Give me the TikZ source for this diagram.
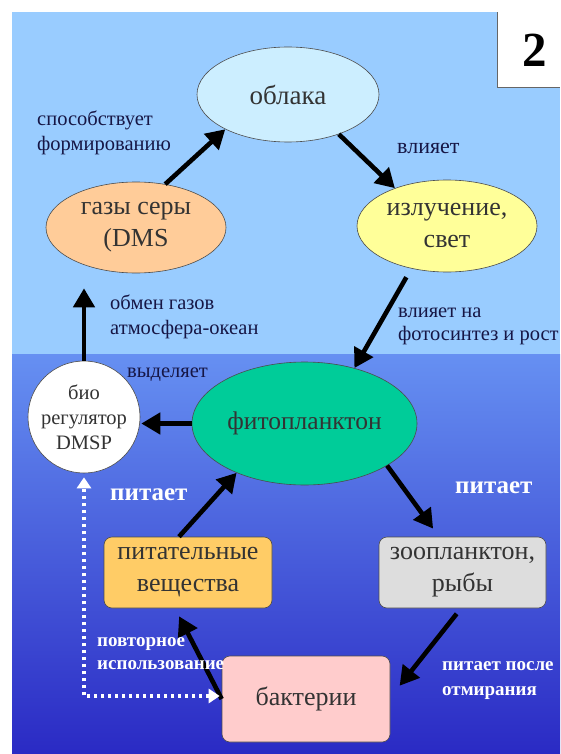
\documentclass[tikz,border=0pt]{standalone}
\usepackage{fontspec}
\setmainfont{Liberation Serif}
\usetikzlibrary{shapes.geometric,arrows.meta}
\definecolor{sky}{HTML}{99CCFF}
\definecolor{seatop}{HTML}{6690F2}
\definecolor{seabot}{HTML}{2A2AC4}
\definecolor{cloudc}{HTML}{CCEEFF}
\definecolor{gasc}{HTML}{FFCC99}
\definecolor{lightc}{HTML}{FFFF99}
\definecolor{phytoc}{HTML}{00CC99}
\definecolor{nutrc}{HTML}{FFCC66}
\definecolor{zooc}{HTML}{DDDDDD}
\definecolor{bactc}{HTML}{FFCCCC}
\definecolor{navy}{HTML}{161645}
\begin{document}
\begin{tikzpicture}[x=1pt,y=-1pt,
  ell/.style={ellipse,draw=black!70,line width=0.6pt,inner sep=0pt,align=center,font=\fontsize{26}{32}\selectfont,text=black!80},
  rbox/.style={rectangle,rounded corners=8pt,draw=black!70,line width=0.6pt,inner sep=0pt,align=center,font=\fontsize{26}{32}\selectfont,text=black!80},
  arr/.style={line width=4.6pt,-{Triangle[length=19pt,width=21pt]}},
  dotarr/.style={white,line width=3.2pt,dash pattern=on 3.2pt off 3.8pt,{Triangle[length=11pt,width=14pt]}-{Triangle[length=11pt,width=14pt]}},
  lbl/.style={font=\fontsize{20.5}{25}\selectfont,text=navy,align=left,anchor=west,inner sep=0pt},
  wlbl/.style={font=\bfseries\fontsize{19}{23}\selectfont,text=white,align=left,anchor=west,inner sep=0pt}]
\useasboundingbox (0,0) rectangle (560,754);
\fill[white] (0,0) rectangle (560,754);
\fill[sky] (12,12) rectangle (560,354);
\shade[top color=seatop,bottom color=seabot] (12,354) rectangle (560,754);
% box 2
\fill[black!60] (496.5,12) rectangle (560,88.5);
\node[fill=white,minimum width=63pt,minimum height=75pt,inner sep=0pt,anchor=north west] (num) at (498,12) {};
\node[font=\bfseries\fontsize{49}{49}\selectfont] (numt) at (535,50) {2};
% nodes
\node[ell,fill=cloudc,minimum width=182pt,minimum height=95pt,font=\fontsize{27}{32}\selectfont] (cloud) at (288,94.5) {облака};
\node[ell,fill=gasc,minimum width=180pt,minimum height=91pt] (gas) at (136,227.5) {газы серы\\(DMS};
\node[ell,fill=lightc,minimum width=180pt,minimum height=92pt] (light) at (447,226) {излучение,\\свет};
\node[circle,draw=black!70,fill=white,line width=0.6pt,minimum size=112pt,inner sep=0pt,align=center,font=\fontsize{20.5}{25}\selectfont,text=black!80] (bio) at (84,417) {био\\регулятор\\DMSP};
\node[ell,fill=phytoc,minimum width=225pt,minimum height=123pt,font=\fontsize{25.5}{30}\selectfont] (phyto) at (304.5,423.5) {фитопланктон};
\node[rbox,fill=nutrc,minimum width=168pt,minimum height=71pt] (nutr) at (188,572.5) {питательные\\вещества};
\node[rbox,fill=zooc,minimum width=167pt,minimum height=71pt] (zoo) at (462.5,572.5) {зоопланктон,\\рыбы};
\node[rbox,fill=bactc,minimum width=168pt,minimum height=86pt] (bact) at (306,699) {бактерии};
% arrows
\draw[arr] (gas.56) -- (cloud.209);
\draw[arr] (cloud.-38) -- (light.144);
\draw[arr,shorten <=10pt] (light.230) -- (phyto.48);
\draw[arr,shorten >=1pt] (phyto.west) -- (phyto.west -| bio.east);
\draw[arr,shorten >=15pt] (bio.north) -- (bio.north |- gas.south);
\draw[arr] ([xshift=-9pt]nutr.north) -- (phyto.216);
\draw[arr,shorten >=10pt] (phyto.-27) -- ([xshift=-23.5pt]zoo.north);
\draw[arr,shorten <=7pt,shorten >=15pt] ([xshift=-1.5pt]zoo.south) -- ([yshift=1.5pt]bact.east);
\draw[arr,shorten >=9pt] (bact.west) -- ([xshift=-13pt]nutr.south);
\draw[dotarr,shorten <=2pt,shorten >=4pt] ([yshift=3pt]bact.west) -- ([yshift=3pt]bio.south |- bact.west) -- (bio.south);
% labels
\node[lbl] (l1) at (37,133) {способствует\\формированию};
\node[lbl,font=\fontsize{22}{25}\selectfont] (l2) at (397,148) {влияет};
\node[lbl] (l3) at (110,317) {обмен газов\\атмосфера-океан};
\node[lbl,font=\fontsize{20.5}{23}\selectfont] (l4) at (398,326) {влияет на\\фотосинтез и рост};
\node[lbl] (l5) at (127,375) {выделяет};
\node[wlbl,font=\bfseries\fontsize{25}{23}\selectfont] (l6) at (110,495) {питает};
\node[wlbl,font=\bfseries\fontsize{25}{23}\selectfont] (l7) at (455,488) {питает};
\node[wlbl] (l8) at (97,653.5) {повторное\\использование};
\node[wlbl,font=\bfseries\fontsize{19}{25}\selectfont] (l9) at (442,680.5) {питает после\\отмирания};
\end{tikzpicture}
\end{document}
